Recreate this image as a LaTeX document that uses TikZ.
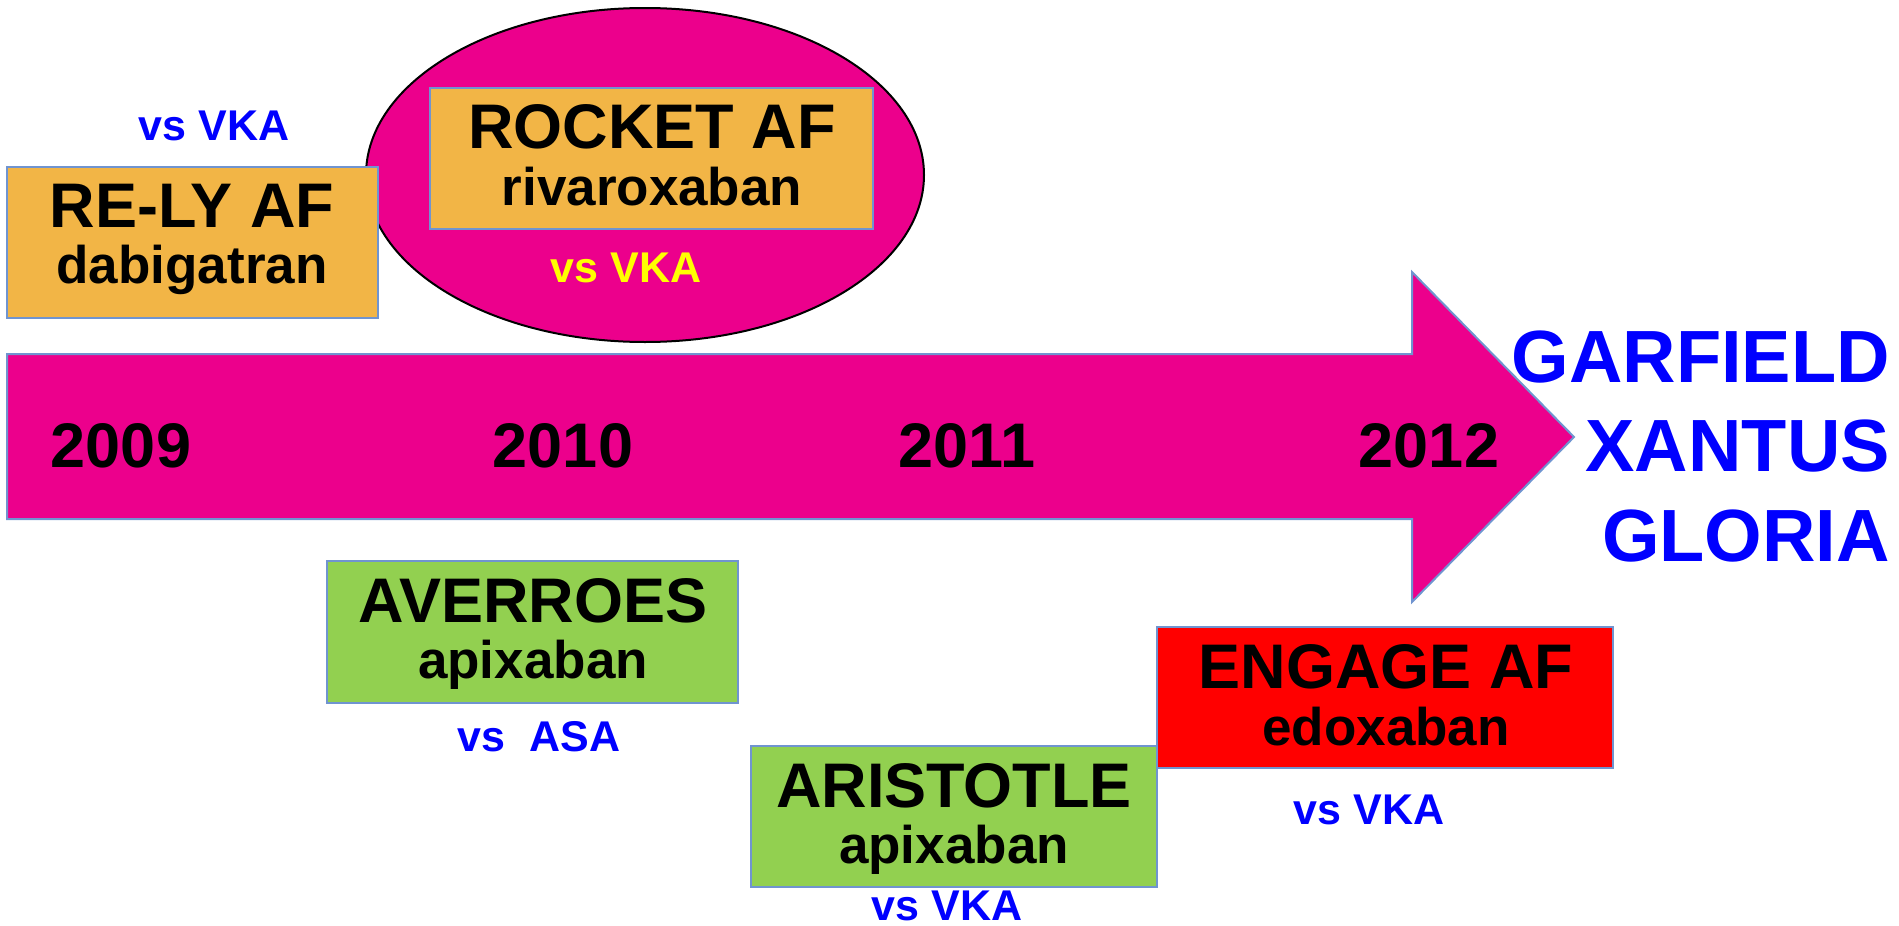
\documentclass[tikz,border=0pt]{standalone}
\usepackage{fontspec}
\setmainfont{Liberation Sans}
\definecolor{mag}{RGB}{236,0,140}
\definecolor{orangebox}{RGB}{242,181,70}
\definecolor{greenbox}{RGB}{146,208,80}
\definecolor{redbox}{RGB}{255,0,0}
\definecolor{edge}{RGB}{112,148,208}
\definecolor{vsblue}{RGB}{0,0,255}
\definecolor{vsyellow}{RGB}{255,255,0}
\tikzset{
  box/.style={draw=edge, line width=2pt, rectangle, inner sep=0pt},
  ttl/.style={font=\fontsize{63}{63}\selectfont\bfseries, anchor=base, inner sep=0pt},
  drug/.style={font=\fontsize{53}{53}\selectfont\bfseries, anchor=base, inner sep=0pt},
  vs/.style={font=\fontsize{43}{43}\selectfont\bfseries, text=vsblue, anchor=base, inner sep=0pt},
  yr/.style={font=\fontsize{63}{63}\selectfont\bfseries, anchor=base, inner sep=0pt},
  trial/.style={font=\fontsize{74}{74}\selectfont\bfseries, text=vsblue, anchor=base east, inner sep=0pt}
}
\begin{document}
\begin{tikzpicture}[x=1pt,y=-1pt]
\useasboundingbox (0,0) rectangle (1899,926);
% timeline arrow
\draw[draw=edge, line width=2pt, fill=mag]
  (7,354) -- (1412,354) -- (1412,272) -- (1574,437) -- (1412,602) -- (1412,519) -- (7,519) -- cycle;
\node[yr] (y2009) at (121,467) {2009};
\node[yr] (y2010) at (563,467) {2010};
\node[yr] (y2011) at (967,467) {2011};
\node[yr] (y2012) at (1429,467) {2012};
% ROCKET AF ellipse
\draw[black, line width=2pt, fill=mag] (645,175) ellipse [x radius=279, y radius=167];
\node[box, fill=orangebox, minimum width=443pt, minimum height=141pt] (rocket) at (651.5,158.5) {};
\node[ttl] (rocketT) at (652,148) {ROCKET AF};
\node[drug] (rocketD) at (652,205) {rivaroxaban};
\node[vs, text=vsyellow] (rocketVs) at (626,282) {vs VKA};
% RE-LY AF
\node[vs] (relyVs) at (214,140) {vs VKA};
\node[box, fill=orangebox, minimum width=371pt, minimum height=151pt] (rely) at (192.5,242.5) {};
\node[ttl] (relyT) at (192,227) {RE-LY AF};
\node[drug] (relyD) at (192,283) {dabigatran};
% AVERROES
\node[box, fill=greenbox, minimum width=411pt, minimum height=142pt] (averroes) at (532.5,632) {};
\node[ttl] (averroesT) at (533,622) {AVERROES};
\node[drug] (averroesD) at (533,678) {apixaban};
\node[vs] (averroesVs) at (539,751) {vs\ \ ASA};
% ARISTOTLE
\node[box, fill=greenbox, minimum width=406pt, minimum height=141pt] (aristotle) at (954,816.5) {};
\node[ttl] (aristotleT) at (954,807) {ARISTOTLE};
\node[drug] (aristotleD) at (954,863) {apixaban};
\node[vs] (aristotleVs) at (947,920) {vs VKA};
% ENGAGE AF
\node[box, fill=redbox, minimum width=456pt, minimum height=141pt] (engage) at (1385,697.5) {};
\node[ttl] (engageT) at (1386,688) {ENGAGE AF};
\node[drug] (engageD) at (1386,745) {edoxaban};
\node[vs] (engageVs) at (1369,824) {vs VKA};
% other trials
\node[trial] (garfield) at (1890,382) {GARFIELD};
\node[trial] (xantus) at (1890,471) {XANTUS};
\node[trial] (gloria) at (1890,561) {GLORIA};
\end{tikzpicture}
\end{document}
